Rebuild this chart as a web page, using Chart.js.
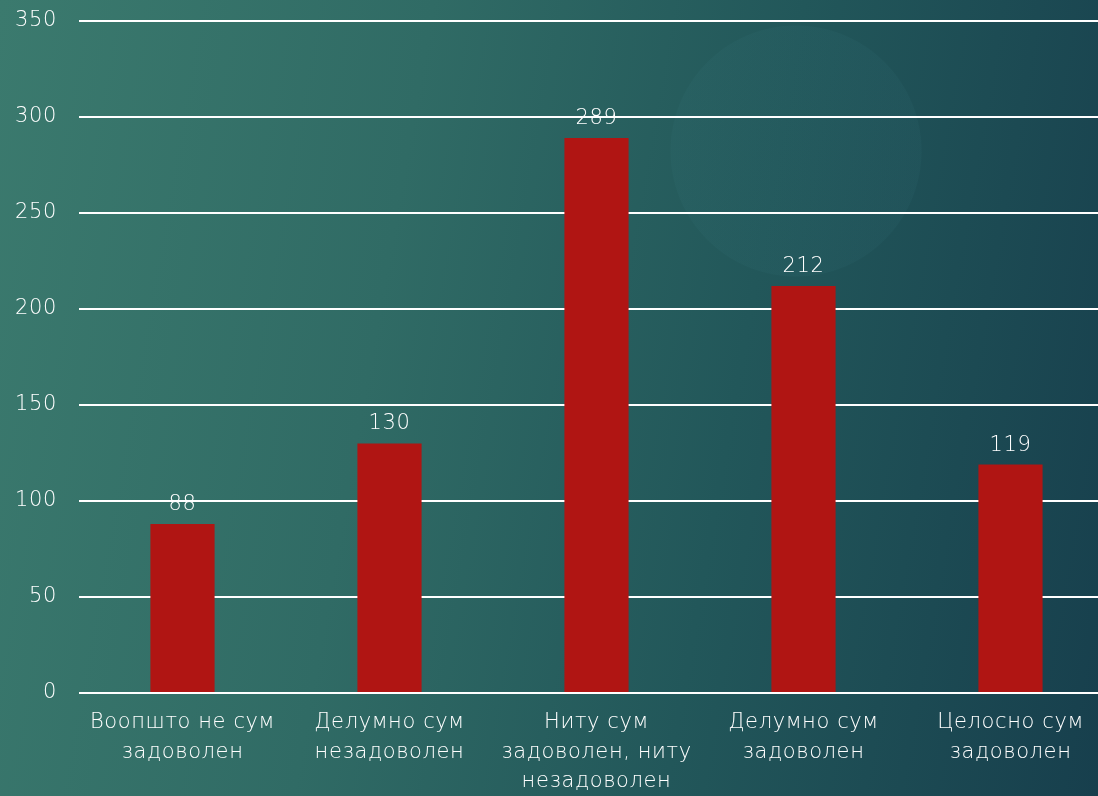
<!DOCTYPE html>
<html>
<head>
<meta charset="utf-8">
<script src="https://cdn.jsdelivr.net/npm/chart.js@4"></script>
<style>
  html, body { margin:0; padding:0; width:1098px; height:796px; overflow:hidden; }
  body {
    position:relative;
    background:
      radial-gradient(circle 126px at 796px 151px, rgba(70,140,150,0.07) 0, rgba(70,140,150,0.07) 125px, rgba(0,0,0,0) 126px),
      linear-gradient(100deg, #3b7a6e 0%, #306b65 35%, #22575a 65%, #173f4d 100%);
  }
  #wrap { position:absolute; left:0; top:0; width:1114px; height:796px; }
</style>
</head>
<body>
<div id="wrap"><canvas id="c"></canvas></div>
<script>
const categories = [
  ["Воопшто не сум", "задоволен"],
  ["Делумно сум", "незадоволен"],
  ["Ниту сум", "задоволен, ниту", "незадоволен"],
  ["Делумно сум", "задоволен"],
  ["Целосно сум", "задоволен"]
];
const values = [88, 130, 289, 212, 119];
const yTicks = [0, 50, 100, 150, 200, 250, 300, 350];

const FONT = "'DejaVu Sans', 'Noto Sans', sans-serif";
const TEXT = "#ffffff";

const spacing = {
  id: 'spacing',
  beforeDraw(chart) { chart.ctx.letterSpacing = '0.6px'; }
};

const valueLabels = {
  id: 'valueLabels',
  afterDatasetsDraw(chart) {
    const ctx = chart.ctx;
    const meta = chart.getDatasetMeta(0);
    ctx.save();
    ctx.font = "200 21px " + FONT;
    ctx.fillStyle = TEXT;
    ctx.textAlign = 'center';
    ctx.textBaseline = 'alphabetic';
    meta.data.forEach((bar, i) => {
      ctx.fillText(String(values[i]), bar.x, bar.y - 14);
    });
    ctx.restore();
  }
};

new Chart(document.getElementById('c'), {
  type: 'bar',
  data: {
    labels: categories,
    datasets: [{
      data: values,
      backgroundColor: '#b01513',
      borderWidth: 0,
      categoryPercentage: 1.0,
      barPercentage: 0.31
    }]
  },
  options: {
    responsive: true,
    maintainAspectRatio: false,
    animation: false,
    layout: { padding: 0 },
    plugins: { legend: { display: false }, tooltip: { enabled: false } },
    scales: {
      x: {
        grid: { display: false },
        border: { display: false },
        ticks: {
          color: TEXT,
          font: { family: FONT, size: 21, weight: 200, lineHeight: 1.4 },
          padding: 7,
          maxRotation: 0,
          autoSkip: false
        },
        afterFit(scale) { scale.height = 103; scale.paddingLeft = 0; scale.paddingRight = 0; }
      },
      y: {
        min: 0,
        max: 350,
        afterBuildTicks(scale) { scale.ticks = yTicks.map(v => ({ value: v })); },
        grid: { color: '#ffffff', lineWidth: 2, drawTicks: false },
        border: { display: false },
        ticks: {
          color: TEXT,
          font: { family: FONT, size: 21, weight: 200 },
          padding: 22
        },
        afterFit(scale) { scale.width = 79; scale.paddingTop = 21; scale.paddingBottom = 0; }
      }
    }
  },
  plugins: [spacing, valueLabels]
});
</script>
</body>
</html>
